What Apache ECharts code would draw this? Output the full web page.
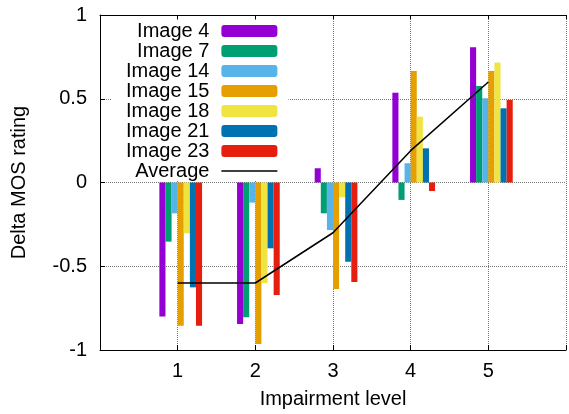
<!DOCTYPE html>
<html>
<head>
<meta charset="utf-8">
<script src="https://cdn.jsdelivr.net/npm/echarts@6/dist/echarts.min.js"></script>
<style>
html,body{margin:0;padding:0;background:#fff;}
#chart{width:569px;height:414px;}
</style>
</head>
<body>
<div id="chart"></div>
<script>
var levels = [1, 2, 3, 4, 5];
var seriesNames = ['Image 4', 'Image 7', 'Image 14', 'Image 15', 'Image 18', 'Image 21', 'Image 23'];
var img4  = [-0.80, -0.845,  0.085,  0.536, 0.807];
var img7  = [-0.353, -0.805, -0.184, -0.104, 0.576];
var img14 = [-0.184, -0.12, -0.284,  0.115, 0.503];
var img15 = [-0.855, -0.964, -0.636,  0.666, 0.666];
var img18 = [-0.303, -0.60, -0.088,  0.393, 0.716];
var img21 = [-0.626, -0.393, -0.473,  0.204, 0.443];
var img23 = [-0.855, -0.672, -0.594, -0.051, 0.493];
var average = [-0.60, -0.60, -0.30, 0.19, 0.60];
var yTicks = [-1, -0.5, 0, 0.5, 1];

var colors = ['#9400d3', '#009e73', '#56b4e9', '#e69f00', '#f0e442', '#0072b2', '#e51e10'];
var values = [img4, img7, img14, img15, img18, img21, img23];
var FONT = '"Liberation Sans", Arial, sans-serif';

function pairs(arr) { return levels.map(function (l, i) { return [l, arr[i]]; }); }

var series = [{
  // empty leading slot: reproduces the reference's half-bar offset of each group
  name: 'spacer', type: 'bar', data: [], barWidth: 6.1, barGap: '0%'
}];
values.forEach(function (v, i) {
  series.push({
    name: seriesNames[i], type: 'bar', data: pairs(v),
    barWidth: 6.1, barGap: '0%',
    itemStyle: { color: colors[i] }, z: 2
  });
});
series.push({
  name: 'Average', type: 'line', data: pairs(average),
  symbol: 'none', z: 5,
  lineStyle: { color: '#000', width: 1.5 }, itemStyle: { color: '#000' }
});

var legendData = seriesNames.map(function (n) { return { name: n }; });
legendData.push({
  name: 'Average',
  icon: 'path://M0,0h56v0.01h-56z M0,5.3h56v1.4h-56z M0,11.99h56v0.01h-56z',
  itemStyle: { color: '#000' }
});

var chart = echarts.init(document.getElementById('chart'), null, { renderer: 'canvas' });
chart.setOption({
  animation: false,
  backgroundColor: '#fff',
  textStyle: { fontFamily: FONT },
  grid: { left: 100, top: 15, right: -3, bottom: 64, containLabel: false },
  legend: {
    data: legendData,
    orient: 'vertical',
    align: 'right',
    left: 112, top: 21,
    padding: [0, 11, 0, 14],
    backgroundColor: '#fff',
    itemWidth: 56, itemHeight: 12, itemGap: 0,
    selectedMode: false,
    textStyle: { fontSize: 20, lineHeight: 20, color: '#000', fontFamily: FONT, padding: [0, 7, 0, 0] },
    z: 3
  },
  xAxis: [{
    type: 'value', min: 0, max: 6, interval: 1,
    name: 'Impairment level', nameLocation: 'middle', nameGap: 39,
    nameTextStyle: { fontSize: 20, color: '#000', fontFamily: FONT },
    axisLine: { show: true, onZero: false, lineStyle: { color: '#000', width: 1 } },
    axisTick: { show: true, inside: true, length: 5, lineStyle: { color: '#000' } },
    axisLabel: {
      fontSize: 20, color: '#000', margin: 11, fontFamily: FONT,
      formatter: function (v) { return (v >= 1 && v <= 5) ? String(v) : ''; }
    },
    splitLine: { show: true, lineStyle: { type: 'dotted', color: '#777', width: 1 } }
  }, {
    type: 'value', min: 0, max: 6, interval: 1, position: 'top',
    axisLine: { show: true, onZero: false, lineStyle: { color: '#000', width: 1 } },
    axisTick: { show: true, inside: true, length: 4, lineStyle: { color: '#000' } },
    axisLabel: { show: false },
    splitLine: { show: false }
  }],
  yAxis: {
    type: 'value', min: yTicks[0], max: yTicks[yTicks.length - 1], interval: 0.5,
    name: 'Delta MOS rating', nameLocation: 'middle', nameGap: 71,
    nameTextStyle: { fontSize: 20, color: '#000', fontFamily: FONT },
    axisLine: { show: true, onZero: false, lineStyle: { color: '#000', width: 1 } },
    axisTick: { show: true, inside: true, length: 5, lineStyle: { color: '#000' } },
    axisLabel: { fontSize: 20, color: '#000', margin: 13, fontFamily: FONT },
    splitLine: { show: true, lineStyle: { type: 'dotted', color: '#777', width: 1 } }
  },
  series: series
});
</script>
</body>
</html>
